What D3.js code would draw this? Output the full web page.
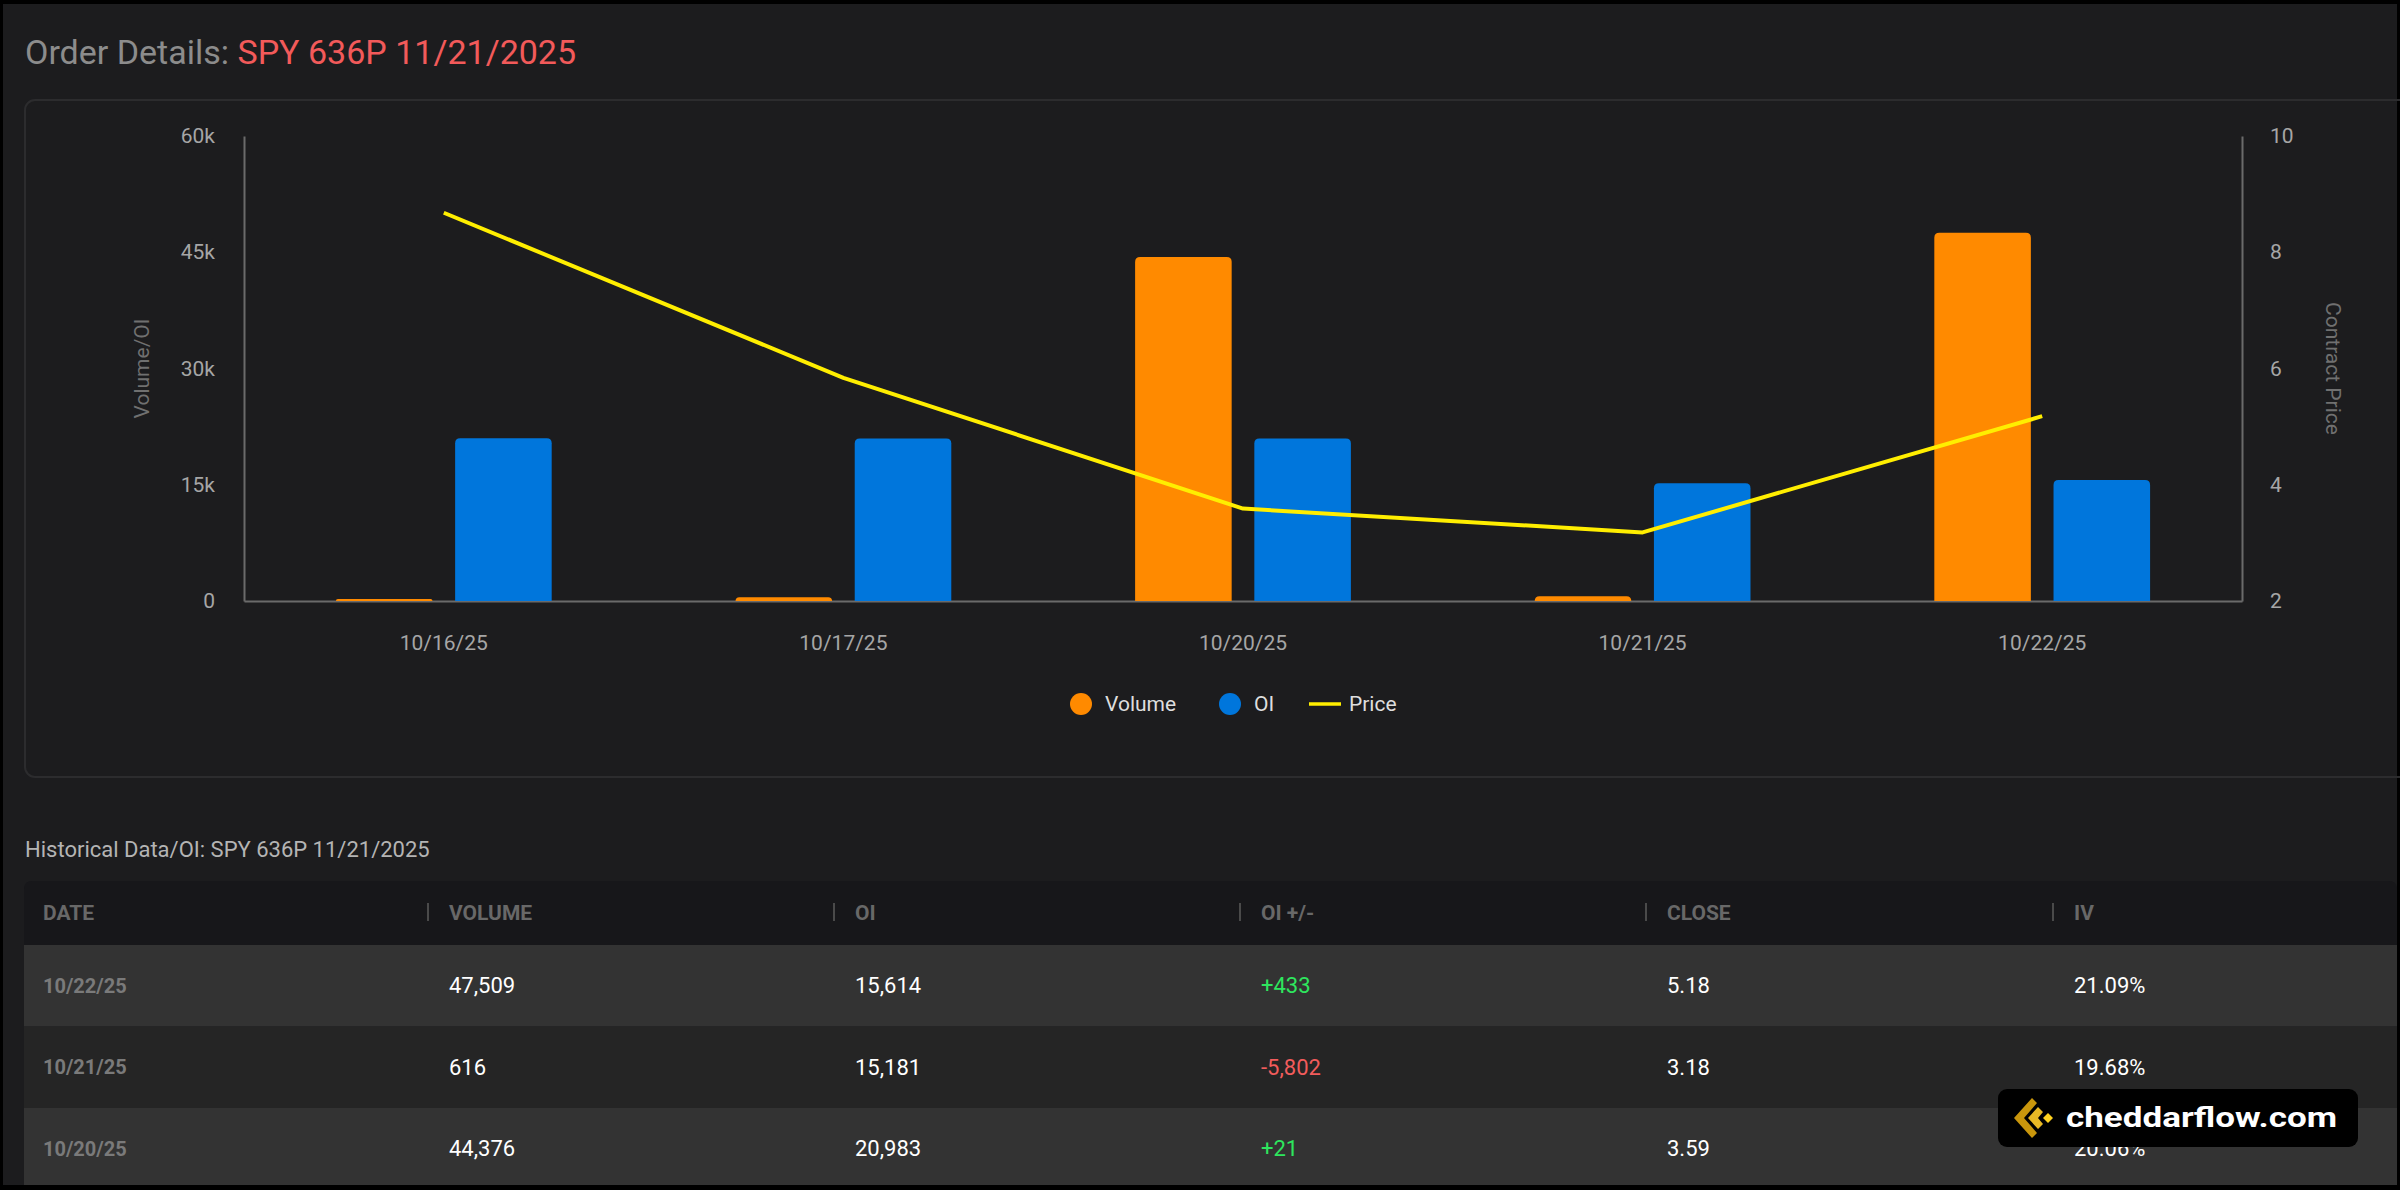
<!DOCTYPE html>
<html>
<head>
<meta charset="utf-8">
<script src="https://cdn.jsdelivr.net/npm/d3@7"></script>
<style>
  body { margin: 0; background: #000; }
  text { font-family: Roboto, "Noto Sans", sans-serif; }
</style>
</head>
<body>
<div id="canvas"></div>
<script>
"use strict"

/* Chart data */
let dates = ["10/16/25", "10/17/25", "10/20/25", "10/21/25", "10/22/25"];
let volume = [250, 500, 44376, 616, 47509];
let openInterest = [21000, 20962, 20983, 15181, 15614];
let price = [8.68, 5.84, 3.59, 3.18, 5.18];

let leftTicks = [0, 15000, 30000, 45000, 60000];
let leftTickLabels = ["0", "15k", "30k", "45k", "60k"];
let rightTicks = [2, 4, 6, 8, 10];

/* Table data */
let tableHeaders = ["DATE", "VOLUME", "OI", "OI +/-", "CLOSE", "IV"];
let tableDates = ["10/22/25", "10/21/25", "10/20/25"];
let tableVolume = [47509, 616, 44376];
let tableOI = [15614, 15181, 20983];
let tableOIChange = [433, -5802, 21];
let tableClose = [5.18, 3.18, 3.59];
let tableIV = ["21.09%", "19.68%", "20.06%"];

/* Drawing config */
let svgWidth = 2400;
let svgHeight = 1190;
let plotLeft = 244, plotRight = 2242, plotTop = 136, plotBottom = 601;

let colors = { volume: "#ff8a00", oi: "#0076dc", price: "#ffee00" };

let svg = d3.select("#canvas")
    .append("svg")
    .attr("width", svgWidth)
    .attr("height", svgHeight);

// black frame + page background
svg.append("rect").attr("width", svgWidth).attr("height", svgHeight).attr("fill", "#000");
svg.append("rect")
    .attr("x", 3).attr("y", 4)
    .attr("width", svgWidth - 6).attr("height", svgHeight - 9)
    .attr("fill", "#1c1c1e");

/* Title */
let title = svg.append("text")
    .attr("x", 25)
    .attr("y", 64)
    .attr("font-size", 34);
title.append("tspan").attr("fill", "#8c8c8c").text("Order Details: ");
title.append("tspan").attr("fill", "#f25a5a").text("SPY 636P 11/21/2025");

/* Chart panel border */
svg.append("rect")
    .attr("x", 25).attr("y", 100)
    .attr("width", 2420).attr("height", 677)
    .attr("rx", 10)
    .attr("fill", "none")
    .attr("stroke", "#2c2c2e")
    .attr("stroke-width", 2);

/* Scales */
let x0 = d3.scaleBand()
    .domain(dates)
    .range([plotLeft, plotRight])
    .paddingInner(0.46)
    .paddingOuter(0.23);

let x1 = d3.scaleBand()
    .domain(["volume", "oi"])
    .range([0, x0.bandwidth()])
    .paddingInner(0.19);

let yLeft = d3.scaleLinear()
    .domain([0, 60000])
    .range([plotBottom, plotTop]);

let yRight = d3.scaleLinear()
    .domain([2, 10])
    .range([plotBottom, plotTop]);

/* Axes */
let axisColor = "#6a6a6a";
let tickColor = "#a6a6a6";

let leftAxis = svg.append("g")
    .attr("transform", "translate(" + plotLeft + ",0)")
    .call(d3.axisLeft(yLeft)
        .tickValues(leftTicks)
        .tickFormat((d, i) => leftTickLabels[i])
        .tickSize(0)
        .tickPadding(29));

let rightAxis = svg.append("g")
    .attr("transform", "translate(" + plotRight + ",0)")
    .call(d3.axisRight(yRight)
        .tickValues(rightTicks)
        .tickSize(0)
        .tickPadding(28));

let bottomAxis = svg.append("g")
    .attr("transform", "translate(0," + plotBottom + ")")
    .call(d3.axisBottom(x0)
        .tickSize(0)
        .tickPadding(34));

[leftAxis, rightAxis, bottomAxis].forEach(g => {
    g.select(".domain").attr("stroke", axisColor).attr("stroke-width", 2);
    g.selectAll("text")
        .attr("fill", tickColor)
        .attr("font-size", 21)
        .attr("font-family", "Roboto, sans-serif");
});

/* Axis titles */
svg.append("text")
    .attr("transform", "translate(142," + (plotTop + plotBottom) / 2 + ") rotate(-90)")
    .attr("text-anchor", "middle")
    .attr("dominant-baseline", "central")
    .attr("fill", "#707070")
    .attr("font-size", 21)
    .text("Volume/OI");

svg.append("text")
    .attr("transform", "translate(2333," + (plotTop + plotBottom) / 2 + ") rotate(90)")
    .attr("text-anchor", "middle")
    .attr("dominant-baseline", "central")
    .attr("fill", "#707070")
    .attr("font-size", 21)
    .text("Contract Price");

/* Bars with rounded top corners */
function topRounded(x, y, w, h, r) {
    r = Math.min(r, w / 2, Math.max(h, 0));
    return "M" + x + "," + (y + h) +
        "V" + (y + r) +
        "Q" + x + "," + y + " " + (x + r) + "," + y +
        "H" + (x + w - r) +
        "Q" + (x + w) + "," + y + " " + (x + w) + "," + (y + r) +
        "V" + (y + h) + "Z";
}

let barData = [];
dates.forEach((d, i) => {
    barData.push({ date: d, key: "volume", value: volume[i] });
    barData.push({ date: d, key: "oi", value: openInterest[i] });
});

svg.append("g")
    .selectAll("path")
    .data(barData)
    .join("path")
    .attr("fill", d => colors[d.key])
    .attr("d", d => topRounded(
        x0(d.date) + x1(d.key),
        yLeft(d.value),
        x1.bandwidth(),
        yLeft(0) - yLeft(d.value),
        5));

/* Price line */
let line = d3.line()
    .x((d, i) => x0(dates[i]) + x0.bandwidth() / 2)
    .y(d => yRight(d));

svg.append("path")
    .datum(price)
    .attr("fill", "none")
    .attr("stroke", colors.price)
    .attr("stroke-width", 4)
    .attr("stroke-linejoin", "round")
    .attr("d", line);

/* Legend */
let legendY = 704;
let legend = svg.append("g");
let legendItems = [
    { label: "Volume", key: "volume", x: 1081, type: "dot" },
    { label: "OI", key: "oi", x: 1230, type: "dot" },
    { label: "Price", key: "price", x: 1325, type: "line" }
];
legendItems.forEach(item => {
    if (item.type === "dot") {
        legend.append("circle")
            .attr("cx", item.x).attr("cy", legendY).attr("r", 11)
            .attr("fill", colors[item.key]);
    } else {
        legend.append("line")
            .attr("x1", item.x - 16).attr("x2", item.x + 16)
            .attr("y1", legendY).attr("y2", legendY)
            .attr("stroke", colors[item.key])
            .attr("stroke-width", 3.5);
    }
    legend.append("text")
        .attr("x", item.x + 24)
        .attr("y", legendY)
        .attr("dominant-baseline", "central")
        .attr("fill", "#dedede")
        .attr("font-size", 21)
        .text(item.label);
});

/* Historical table */
svg.append("text")
    .attr("x", 25)
    .attr("y", 849)
    .attr("dominant-baseline", "central")
    .attr("fill", "#b4b4b4")
    .attr("font-size", 22)
    .text("Historical Data/OI: SPY 636P 11/21/2025");

let tableLeft = 24;
let headerTop = 881, headerHeight = 64, rowHeight = 81.5;
let colX = [43, 449, 855, 1261, 1667, 2074];

svg.append("path")
    .attr("fill", "#17171a")
    .attr("d", topRounded(tableLeft, headerTop, svgWidth - 3 - tableLeft, headerHeight, 8));

svg.append("g")
    .selectAll("text")
    .data(tableHeaders)
    .join("text")
    .attr("x", (d, i) => colX[i])
    .attr("y", headerTop + headerHeight / 2)
    .attr("dominant-baseline", "central")
    .attr("fill", "#686868")
    .attr("font-size", 21)
    .attr("font-weight", "bold")
    .text(d => d);

svg.append("g")
    .selectAll("line")
    .data(colX.slice(1))
    .join("line")
    .attr("x1", d => d - 21).attr("x2", d => d - 21)
    .attr("y1", headerTop + 22).attr("y2", headerTop + 40)
    .attr("stroke", "#4a4a4a")
    .attr("stroke-width", 2);

let fmt = d3.format(",");
let rows = tableDates.map((d, i) => ({
    cells: [
        { text: d, color: "#7a7a7a", weight: "bold" },
        { text: fmt(tableVolume[i]), color: "#ffffff" },
        { text: fmt(tableOI[i]), color: "#ffffff" },
        { text: (tableOIChange[i] > 0 ? "+" : "-") + fmt(Math.abs(tableOIChange[i])),
          color: tableOIChange[i] > 0 ? "#2ee65e" : "#f25c5c" },
        { text: tableClose[i].toFixed(2), color: "#ffffff" },
        { text: tableIV[i], color: "#ffffff" }
    ]
}));

let rowGroups = svg.append("g")
    .selectAll("g")
    .data(rows)
    .join("g")
    .attr("transform", (d, i) => "translate(0," + (headerTop + headerHeight + i * rowHeight) + ")");

rowGroups.append("rect")
    .attr("x", tableLeft)
    .attr("width", svgWidth - 3 - tableLeft)
    .attr("height", rowHeight)
    .attr("fill", (d, i) => i % 2 === 0 ? "#333333" : "#252525");

rowGroups.selectAll("text")
    .data(d => d.cells)
    .join("text")
    .attr("x", (d, i) => colX[i])
    .attr("y", rowHeight / 2)
    .attr("dominant-baseline", "central")
    .attr("fill", d => d.color)
    .attr("font-size", d => d.weight ? 20 : 22)
    .attr("font-weight", d => d.weight || "normal")
    .text(d => d.text);

/* bottom black edge */
svg.append("rect").attr("x", 0).attr("y", 1185).attr("width", svgWidth).attr("height", 5).attr("fill", "#000");

/* Watermark badge */
let badge = svg.append("g").attr("transform", "translate(1998,1089)");
badge.append("rect")
    .attr("width", 360).attr("height", 58).attr("rx", 9)
    .attr("fill", "#000");
badge.append("path")
    .attr("fill", "#c9960c")
    .attr("d", "M34,9 L16,29 L34,49 L39,44 L26,29 L39,14 Z");
badge.append("path")
    .attr("fill", "#e8b825")
    .attr("d", "M40,18 L30,29 L40,40 L45,35 L40,29 L45,23 Z");
badge.append("path")
    .attr("fill", "#ffd21f")
    .attr("d", "M50,24 L55,29 L50,34 L45,29 Z");
badge.append("text")
    .attr("x", 68)
    .attr("y", 38)
    .attr("fill", "#ffffff")
    .attr("font-size", 28)
    .attr("font-weight", "bold")
    .attr("font-family", "Inter, Roboto, sans-serif")
    .attr("textLength", 271)
    .attr("lengthAdjust", "spacingAndGlyphs")
    .text("cheddarflow.com");
</script>
</body>
</html>
